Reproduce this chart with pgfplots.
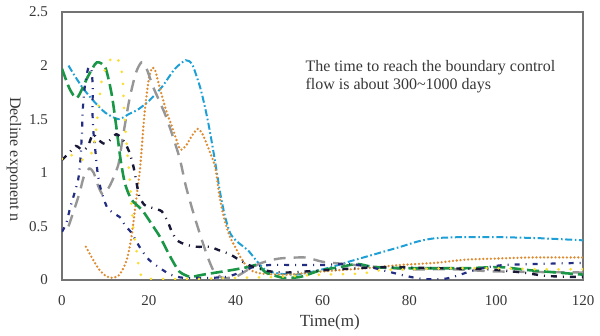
\documentclass[border=0pt]{standalone}
\usepackage{pgfplots}
\pgfplotsset{compat=1.18}
\usepackage{fontspec}
\setmainfont{Liberation Serif}
\definecolor{ccyan}{RGB}{30,160,215}
\definecolor{corange}{RGB}{222,140,50}
\definecolor{cgray}{RGB}{150,150,150}
\definecolor{cgreen}{RGB}{25,150,70}
\definecolor{cnavy}{RGB}{35,45,130}
\definecolor{cblack}{RGB}{25,25,55}
\definecolor{cyellow}{RGB}{250,222,50}
\definecolor{ctext}{RGB}{55,55,55}
\begin{document}
\begin{tikzpicture}
\begin{axis}[
  scale only axis, width=260.5pt, height=134pt,
  xmin=0, xmax=120, ymin=0, ymax=2.5,
  xtick={0,20,...,120}, ytick={0,0.5,1,1.5,2,2.5},
  yticklabels={0,0.5,1,1.5,2,2.5},
  major tick length=0pt,
  axis line style={draw=black!55, line width=0.8pt},
  /pgf/number format/assume math mode=true,
  ticklabel style={font=\fontsize{7.5}{9}\selectfont, text=ctext},
  xticklabel style={yshift=-4pt},
  yticklabel style={xshift=-3.5pt},
  xlabel={Time(m)},
  ylabel={Decline exponent n},
  xlabel style={font=\fontsize{8.5}{10}\selectfont, text=ctext, at={(axis description cs:0.514,-0.16)}, anchor=center},
  ylabel style={font=\fontsize{8}{10}\selectfont, text=ctext, at={(axis description cs:-0.092,0.45)}, anchor=center, rotate=180},
  clip=true,
]
% cyan dash-dot
\addplot[ccyan, line width=1pt, smooth, tension=0.4, dash pattern=on 3.5pt off 1.3pt on 0.8pt off 1.3pt] coordinates {
(1.5,2.0)(3,1.9)(5,1.78)(7.5,1.66)(10,1.56)(13,1.5)(15.5,1.55)(17.5,1.59)(20,1.67)(23,1.8)(26,1.97)(28.5,2.05)(30,2.01)(31.8,1.8)(33,1.6)(34,1.4)(35.2,1.12)(36.4,0.82)(37.5,0.6)(38.7,0.44)(40,0.37)(41.5,0.32)(43,0.27)(45,0.17)(47,0.09)(50,0.06)(54,0.05)(58,0.08)(62,0.12)(66,0.17)(72,0.24)(78,0.31)(82,0.36)(86,0.39)(92,0.4)(100,0.4)(110,0.39)(120,0.37)
};
% orange dotted
\addplot[corange, line width=1.3pt, line cap=round, smooth, tension=0.4, dash pattern=on 0pt off 1.9pt] coordinates {
(5.5,0.31)(7,0.2)(8.5,0.1)(10,0.04)(11.5,0.02)(13,0.04)(14,0.1)(15,0.2)(16,0.4)(17,0.72)(18,1.05)(19,1.55)(20,1.88)(20.8,1.98)(21.5,1.95)(22.6,1.78)(24,1.58)(25.6,1.4)(27.2,1.22)(28.5,1.25)(30,1.35)(31.3,1.41)(32.5,1.35)(34,1.2)(35.3,1.05)(36.4,0.75)(37.5,0.55)(38.7,0.4)(40,0.3)(41,0.22)(42.3,0.14)(43.5,0.09)(46,0.06)(52,0.05)(60,0.08)(70,0.11)(78,0.14)(86,0.16)(93,0.19)(100,0.2)(108,0.21)(120,0.21)
};
% gray long dash
\addplot[cgray, line width=1.2pt, smooth, tension=0.4, dash pattern=on 6pt off 4pt] coordinates {
(1.5,0.5)(3,0.68)(4.1,0.82)(5,0.96)(6.3,1.04)(7.3,1.0)(8.3,0.88)(9.3,0.8)(10.3,0.83)(11.5,0.92)(13,1.08)(14,1.33)(15.5,1.68)(17,1.93)(18.3,2.03)(19.5,1.97)(21,1.8)(24,1.52)(27,1.15)(28.5,0.88)(30.3,0.62)(32,0.4)(33.5,0.22)(35,0.08)(37,0.02)(40,0.03)(43,0.1)(46,0.16)(50,0.2)(56,0.21)(60,0.17)(65,0.15)(70,0.13)(80,0.1)(90,0.1)(100,0.08)(120,0.07)
};
% green long dash
\addplot[cgreen, line width=1.3pt, smooth, tension=0.4, dash pattern=on 6pt off 2.5pt] coordinates {
(0,1.97)(1.8,1.78)(3.5,1.7)(6,1.9)(8,2.03)(10,1.98)(11.5,1.72)(12.7,1.37)(13.5,1.12)(14.5,0.9)(16,0.75)(18.5,0.65)(21,0.5)(22.6,0.4)(24.9,0.22)(27,0.08)(29.5,0.03)(32.5,0.05)(38.7,0.09)(42.8,0.12)(45,0.14)(47,0.07)(51,0.02)(55,0.03)(59.5,0.09)(64,0.12)(68,0.15)(72,0.12)(80,0.11)(93,0.11)(101,0.12)(108,0.09)(120,0.05)
};
% navy dash-dot
\addplot[cnavy, line width=1.1pt, smooth, tension=0.4, dash pattern=on 2.5pt off 3pt on 0.5pt off 3pt] coordinates {
(0,0.45)(1,0.53)(1.8,0.66)(2.8,0.8)(3.7,0.93)(4.2,1.1)(4.6,1.38)(4.8,1.6)(5.3,1.82)(6,1.97)(6.7,1.98)(7.1,1.8)(7,1.6)(7.2,1.4)(7.7,1.2)(8.2,1.0)(8.8,0.87)(9.5,0.77)(10.5,0.67)(12,0.62)(13.5,0.58)(14.5,0.51)(16,0.44)(18,0.3)(20,0.19)(22.6,0.11)(25,0.05)(28,0.02)(34,0.02)(38,0.03)(41,0.07)(44,0.12)(48,0.14)(55,0.14)(60,0.14)(66,0.15)(70,0.13)(75,0.08)(79,0.04)(83,0.01)(88,0.01)(91,0.04)(94,0.08)(98,0.12)(102,0.14)(110,0.15)(120,0.16)
};
% black long dash-dot
\addplot[cblack, line width=1.2pt, smooth, tension=0.4, dash pattern=on 3pt off 3pt on 0.5pt off 3pt] coordinates {
(0,1.12)(1.5,1.18)(3.2,1.25)(4.8,1.21)(6,1.25)(7.1,1.36)(8.3,1.31)(9.8,1.27)(11.2,1.31)(12.5,1.36)(13.8,1.32)(15,1.24)(15.7,1.17)(16.5,1.05)(17.2,0.9)(17.8,0.78)(19,0.7)(21,0.67)(23,0.64)(24.4,0.54)(25.3,0.45)(26.5,0.37)(28.5,0.33)(31,0.31)(34,0.31)(36,0.28)(38.7,0.24)(40.3,0.2)(43,0.14)(45,0.11)(48,0.08)(52,0.07)(60,0.09)(68,0.11)(75,0.12)(87,0.11)(98,0.1)(106,0.07)(111,0.04)(116,0.03)(120,0.03)
};
% yellow loosely dotted
\addplot[cyellow, line width=1.5pt, line cap=round, smooth, tension=0.4, dash pattern=on 0pt off 6pt] coordinates {
(0,1.13)(1.5,1.18)(3,1.14)(5,1.12)(6.5,1.16)(7.3,1.25)(8,1.45)(8.5,1.65)(9.2,1.87)(10.5,2.02)(12.2,2.09)(13.5,2.0)(14,1.85)(14.3,1.6)(14.8,1.3)(15.5,1.0)(16,0.7)(16.5,0.45)(17.2,0.26)(17.7,0.12)(18.6,0.02)(22,0.01)(30,0.01)(40,0.02)(50,0.03)(60,0.05)(69,0.06)(73,0.09)(80,0.1)(90,0.11)(100,0.11)(110,0.1)(120,0.1)
};
\node[anchor=north west, inner sep=0pt, align=left, text=ctext, font=\fontsize{8}{8.8}\selectfont] at (axis cs:56,2.05) {The time to reach the boundary control\\flow is about 300\textasciitilde1000 days};
\end{axis}
\pgfresetboundingbox
\path[use as bounding box] (current axis.south west) ++(-31pt,-28pt) rectangle ([xshift=8.5pt,yshift=6pt]current axis.north east);
\end{tikzpicture}
\end{document}
